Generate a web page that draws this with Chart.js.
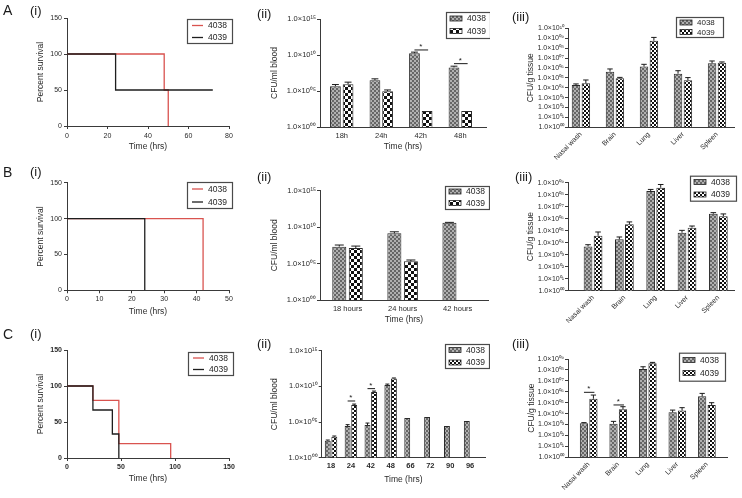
<!DOCTYPE html>
<html><head><meta charset="utf-8"><title>Survival and bacterial burden, strains 4038 / 4039</title>
<script src="https://cdn.jsdelivr.net/npm/chart.js@4.4.1/dist/chart.umd.min.js"></script>
<style>
html,body{margin:0;padding:0;background:#fff}
#wrap{position:relative;width:742px;height:498px;overflow:hidden;background:#fff;font-family:"Liberation Sans",Arial,Helvetica,sans-serif;color:#1a1a1a}
#wrap canvas{position:absolute}
.pl{position:absolute;line-height:1;white-space:nowrap}
.big{font-size:14px}
.sub{font-size:13px}
</style></head><body><div id="wrap">
<canvas id="a1"></canvas><canvas id="a2"></canvas><canvas id="a3"></canvas>
<canvas id="b1"></canvas><canvas id="b2"></canvas><canvas id="b3"></canvas>
<canvas id="c1"></canvas><canvas id="c2"></canvas><canvas id="c3"></canvas>
<span class="pl big" style="left:3px;top:3px">A</span>
<span class="pl sub" style="left:30px;top:4px">(i)</span>
<span class="pl sub" style="left:257px;top:7px">(ii)</span>
<span class="pl sub" style="left:512px;top:10px">(iii)</span>
<span class="pl big" style="left:3px;top:165px">B</span>
<span class="pl sub" style="left:30px;top:165px">(i)</span>
<span class="pl sub" style="left:257px;top:170px">(ii)</span>
<span class="pl sub" style="left:515px;top:170px">(iii)</span>
<span class="pl big" style="left:3px;top:327px">C</span>
<span class="pl sub" style="left:30px;top:327px">(i)</span>
<span class="pl sub" style="left:257px;top:337px">(ii)</span>
<span class="pl sub" style="left:512px;top:337px">(iii)</span>
</div>
<script>
// ================= DATA =================
const strainLabels = ['4038', '4039'];

// Kaplan-Meier survival (time in hrs, percent survival)
const survA_time4038 = [0, 48, 50];
const survA_pct4038  = [100, 50, 0];
const survA_time4039 = [0, 24, 72];
const survA_pct4039  = [100, 50, 50];
const survB_time4038 = [0, 42];
const survB_pct4038  = [100, 0];
const survB_time4039 = [0, 24];
const survB_pct4039  = [100, 0];
const survC_time4038 = [0, 24, 48, 96];
const survC_pct4038  = [100, 80, 20, 0];
const survC_time4039 = [0, 24, 42, 48];
const survC_pct4039  = [100, 66.7, 33.3, 0];
const survTicksA = [0, 20, 40, 60, 80];
const survTicksB = [0, 10, 20, 30, 40, 50];
const survTicksC = [0, 50, 100, 150];
const survTicksPct = [0, 50, 100, 150];

// CFU / ml blood
const bloodA_cats = ['18h', '24h', '42h', '48h'];
const bloodA_4038     = [4.7e5, 3.2e6, 1.8e10, 1.9e8];
const bloodA_4038_err = [7.9e5, 4.9e6, 2.5e10, 2.8e8];
const bloodA_4039     = [8.9e5, 9.3e4, 1.7e2, 1.7e2];
const bloodA_4039_err = [1.7e6, 1.4e5, null, null];
const bloodA_sigIndex = [2, 3];
const bloodA_sigLevel = [5.0e10, 6.3e8];

const bloodB_cats = ['18 hours', '24 hours', '42 hours'];
const bloodB_4038     = [2.1e7, 1.4e9, 4.0e10];
const bloodB_4038_err = [3.5e7, 2.3e9, 4.5e10];
const bloodB_4039     = [1.35e7, 2.0e5, null];
const bloodB_4039_err = [2.5e7, 3.1e5, null];

const bloodC_cats = ['18', '24', '42', '48', '66', '72', '90', '96'];
const bloodC_4038     = [2.4e2, 2.75e4, 3.8e4, 1.55e10, 3.6e5, 5.0e5, 2.75e4, 1.4e5];
const bloodC_4038_err = [3.0e2, 4.3e4, 7.2e4, 2.1e10, null, null, null, null];
const bloodC_4039     = [8.7e2, 2.4e7, 1.6e9, 1.3e11, null, null, null, null];
const bloodC_4039_err = [1.1e3, 3.3e7, 2.2e9, 1.5e11, null, null, null, null];
const bloodC_sigIndex = [1, 2];
const bloodC_sigLevel = [8.9e7, 4.8e9];

// CFU / g tissue
const tissueCats = ['Nasal wash', 'Brain', 'Lung', 'Liver', 'Spleen'];
const tissueA_4038     = [1.9e4, 4.2e5, 1.35e6, 2.6e5, 2.9e6];
const tissueA_4038_err = [2.4e4, 7.8e5, 2.3e6, 5.2e5, 5.0e6];
const tissueA_4039     = [2.75e4, 8.9e4, 5.6e8, 5.6e4, 3.4e6];
const tissueA_4039_err = [6.0e4, 1.1e5, 1.2e9, 1.05e5, 4.0e6];

const tissueB_4038     = [4.9e3, 1.9e4, 2.0e8, 6.8e4, 2.6e6];
const tissueB_4038_err = [6.8e3, 3.0e4, 2.75e8, 1.07e5, 3.2e6];
const tissueB_4039     = [3.8e4, 3.4e5, 3.8e8, 1.8e5, 1.6e6];
const tissueB_4039_err = [7.8e4, 5.4e5, 7.1e8, 2.45e5, 2.5e6];

const tissueC_4038     = [1.3e3, 1.2e3, 1.2e8, 1.3e4, 3.8e5];
const tissueC_4038_err = [1.5e3, 1.95e3, 1.95e8, 2.1e4, 7.1e5];
const tissueC_4039     = [2.3e5, 2.5e4, 4.0e8, 1.9e4, 6.2e4];
const tissueC_4039_err = [5.0e5, 4.3e4, 4.9e8, 3.5e4, 1.0e5];
const tissueC_sigIndex = [0, 1];
const tissueC_sigLevel = [8.9e5, 6.2e4];

// log axis ticks
const bloodTickValues = [1, 1e5, 1e10, 1e15];
const bloodTickLabels = ['1.0×10⁰⁰', '1.0×10⁰⁵', '1.0×10¹⁰', '1.0×10¹⁵'];
const tissueTickValues10 = [1, 1e1, 1e2, 1e3, 1e4, 1e5, 1e6, 1e7, 1e8, 1e9, 1e10];
const tissueTickLabels10 = ['1.0×10⁰⁰', '1.0×10⁰¹', '1.0×10⁰²', '1.0×10⁰³', '1.0×10⁰⁴', '1.0×10⁰⁵', '1.0×10⁰⁶', '1.0×10⁰⁷', '1.0×10⁰⁸', '1.0×10⁰⁹', '1.0×10¹⁰'];
const tissueTickValues9 = [1, 1e1, 1e2, 1e3, 1e4, 1e5, 1e6, 1e7, 1e8, 1e9];
const tissueTickLabels9 = ['1.0×10⁰⁰', '1.0×10⁰¹', '1.0×10⁰²', '1.0×10⁰³', '1.0×10⁰⁴', '1.0×10⁰⁵', '1.0×10⁰⁶', '1.0×10⁰⁷', '1.0×10⁰⁸', '1.0×10⁰⁹'];

// ================= STYLE / HELPERS =================
const FONT = '"Liberation Sans", Arial, Helvetica, sans-serif';
Chart.defaults.font.family = FONT;
Chart.defaults.color = '#2a2a2a';
Chart.defaults.animation = false;
Chart.defaults.plugins.legend.display = false;
Chart.defaults.plugins.tooltip.enabled = false;
const RED = '#d9534f', BLK = '#1e1e1e', AX = '#3a3a3a';
const TITLE_SIZE = 8.5, TITLE_LH = TITLE_SIZE * 1.2;

function makePattern(bg, fg, cell) {
  const c = document.createElement('canvas');
  c.width = c.height = cell * 2;
  const x = c.getContext('2d');
  x.fillStyle = bg; x.fillRect(0, 0, cell * 2, cell * 2);
  x.fillStyle = fg; x.fillRect(0, 0, cell, cell); x.fillRect(cell, cell, cell, cell);
  return x.createPattern(c, 'repeat');
}
const pat4038 = makePattern('#b0b0b0', '#666666', 2);
const pat4039big = makePattern('#ffffff', '#111111', 3);
const pat4039 = makePattern('#ffffff', '#111111', 2);

function place(id, box) {
  const cv = document.getElementById(id);
  cv.width = box.w; cv.height = box.h;
  cv.style.left = box.x + 'px'; cv.style.top = box.y + 'px';
  cv.style.width = box.w + 'px'; cv.style.height = box.h + 'px';
  return cv;
}

function extras(box, spec) {
  return {
    id: 'extras',
    afterDatasetsDraw(chart) {
      const ctx = chart.ctx, ys = chart.scales.y;
      chart.data.datasets.forEach((ds, di) => {
        if (!ds.errUpper) return;
        const meta = chart.getDatasetMeta(di);
        meta.data.forEach((el, i) => {
          const e = ds.errUpper[i];
          if (e == null || ds.data[i] == null) return;
          const top = ys.getPixelForValue(e);
          const hw = Math.max(2, el.width * 0.32);
          ctx.save();
          ctx.strokeStyle = '#1a1a1a'; ctx.lineWidth = 1;
          ctx.beginPath();
          ctx.moveTo(el.x, el.y); ctx.lineTo(el.x, top);
          ctx.moveTo(el.x - hw, top); ctx.lineTo(el.x + hw, top);
          ctx.stroke(); ctx.restore();
        });
      });
      if (spec.sigIndex) {
        const m0 = chart.getDatasetMeta(0), m1 = chart.getDatasetMeta(1);
        spec.sigIndex.forEach((idx, k) => {
          const yy = ys.getPixelForValue(spec.sigLevel[k]);
          const x0 = m0.data[idx].x, x1 = m1.data[idx].x;
          ctx.save();
          ctx.strokeStyle = '#1a1a1a'; ctx.lineWidth = 1;
          ctx.beginPath(); ctx.moveTo(x0, yy); ctx.lineTo(x1 + 1, yy); ctx.stroke();
          ctx.fillStyle = '#1a1a1a'; ctx.font = '8px ' + FONT;
          ctx.textAlign = 'center'; ctx.textBaseline = 'alphabetic';
          ctx.fillText('*', (x0 + x1) / 2, yy - 1);
          ctx.restore();
        });
      }
    },
    afterDraw(chart) {
      const L = spec.legend; if (!L) return;
      const ctx = chart.ctx;
      const lx = L.x - box.x, ly = L.y - box.y;
      ctx.save();
      ctx.strokeStyle = '#4a4a4a'; ctx.lineWidth = 1.2;
      ctx.strokeRect(lx + 0.5, ly + 0.5, L.w, L.h);
      ctx.font = L.size + 'px ' + FONT; ctx.fillStyle = '#1e1e1e';
      ctx.textAlign = 'left'; ctx.textBaseline = 'middle';
      chart.data.datasets.forEach((ds, i) => {
        const ry = L.rows[i] - box.y;
        if (spec.kind === 'line') {
          ctx.strokeStyle = ds.borderColor; ctx.lineWidth = 1.3;
          ctx.beginPath(); ctx.moveTo(lx + 5, ry); ctx.lineTo(lx + 16, ry); ctx.stroke();
        } else {
          ctx.fillStyle = ds.backgroundColor;
          ctx.fillRect(lx + 4, ry - 2.5, 12, 5);
          ctx.strokeStyle = '#222'; ctx.lineWidth = 0.8;
          ctx.strokeRect(lx + 4, ry - 2.5, 12, 5);
          ctx.fillStyle = '#1e1e1e';
        }
        ctx.fillText(ds.label, lx + 21, ry + 0.5);
      });
      ctx.restore();
    }
  };
}

function axisCommon(color) {
  return { border: { display: true, color: color, width: 1 } };
}

function survivalPanel(id, box, area, o) {
  const cv = place(id, box);
  const mk = (t, p) => t.map((tt, i) => ({ x: tt, y: p[i] }));
  const datasets = [
    { label: strainLabels[0], data: mk(o.t38, o.p38), borderColor: RED, order: 1 },
    { label: strainLabels[1], data: mk(o.t39, o.p39), borderColor: BLK, order: 0 }
  ];
  datasets.forEach(d => Object.assign(d, { stepped: 'before', borderWidth: 1.3, pointRadius: 0, fill: false, tension: 0 }));
  const yW = area.l - box.x, xH = box.y + box.h - area.b;
  return new Chart(cv, {
    type: 'line',
    data: { datasets },
    options: {
      responsive: false, maintainAspectRatio: false,
      layout: { padding: { left: 0, top: area.t - box.y, right: box.x + box.w - area.r, bottom: 0 } },
      scales: {
        x: {
          type: 'linear', min: o.xTicks[0], max: o.xTicks[o.xTicks.length - 1],
          afterBuildTicks: s => { s.ticks = o.xTicks.map(v => ({ value: v })); },
          afterFit: s => { s.height = xH; },
          ticks: { font: { size: 7, weight: o.bold ? 'bold' : 'normal' }, padding: o.xPad, maxRotation: 0, color: '#2a2a2a' },
          grid: { drawOnChartArea: false, drawTicks: true, tickLength: 3, color: AX },
          ...axisCommon(AX),
          title: { display: true, text: 'Time (hrs)', font: { size: TITLE_SIZE }, color: '#2a2a2a',
                   padding: { top: 0, bottom: (box.y + box.h) - o.xTitleY - TITLE_LH / 2 } }
        },
        y: {
          type: 'linear', min: 0, max: 150,
          afterBuildTicks: s => { s.ticks = survTicksPct.map(v => ({ value: v })); },
          afterFit: s => { s.width = yW; },
          ticks: { font: { size: 7, weight: o.bold ? 'bold' : 'normal' }, padding: 2, color: '#2a2a2a' },
          grid: { drawOnChartArea: false, drawTicks: true, tickLength: 3, color: AX },
          ...axisCommon(AX),
          title: { display: true, text: 'Percent survival', font: { size: TITLE_SIZE }, color: '#2a2a2a',
                   padding: { top: o.yTitleX - box.x - TITLE_LH / 2, bottom: 0 } }
        }
      }
    },
    plugins: [extras(box, { kind: 'line', legend: o.legend })]
  });
}

function barPanel(id, box, area, o) {
  const cv = place(id, box);
  const datasets = [
    { label: strainLabels[0], data: o.v38, errUpper: o.e38, backgroundColor: pat4038 },
    { label: strainLabels[1], data: o.v39, errUpper: o.e39, backgroundColor: o.pat39 }
  ];
  datasets.forEach(d => Object.assign(d, { borderColor: '#2a2a2a', borderWidth: 1,
    categoryPercentage: o.cp, barPercentage: o.bp }));
  const yW = area.l - box.x, xH = box.y + box.h - area.b;
  const n = o.cats.length;
  const xScale = {
    type: 'category', offset: true,
    afterBuildTicks: s => { s._startValue = -o.padStart; s._valueRange = n - 1 + o.padStart + o.padEnd; },
    afterFit: s => { s.height = xH; },
    ticks: { font: { size: o.xFont, weight: o.bold ? 'bold' : 'normal' }, padding: o.xPad, autoSkip: false,
             minRotation: o.rot, maxRotation: o.rot, color: '#2a2a2a' },
    grid: { display: false, drawTicks: false, tickLength: 0 },
    ...axisCommon(AX)
  };
  if (o.xTitleY) {
    xScale.title = { display: true, text: 'Time (hrs)', font: { size: TITLE_SIZE }, color: '#2a2a2a',
                     padding: { top: 0, bottom: (box.y + box.h) - o.xTitleY - TITLE_LH / 2 } };
  }
  return new Chart(cv, {
    type: 'bar',
    data: { labels: o.cats, datasets },
    options: {
      responsive: false, maintainAspectRatio: false,
      layout: { padding: { left: 0, top: area.t - box.y, right: box.x + box.w - area.r, bottom: 0 } },
      scales: {
        x: xScale,
        y: {
          type: 'logarithmic', min: o.tickValues[0], max: o.tickValues[o.tickValues.length - 1],
          afterBuildTicks: s => { s.ticks = o.tickValues.map(v => ({ value: v })); },
          afterFit: s => { s.width = yW; },
          ticks: { font: { size: o.yFont }, padding: 1, autoSkip: false, color: '#2a2a2a',
                   callback: (v, i) => o.tickLabels[i] },
          grid: { drawOnChartArea: false, drawTicks: true, tickLength: 3, color: AX },
          ...axisCommon(AX),
          title: { display: true, text: o.yTitle, font: { size: TITLE_SIZE }, color: '#2a2a2a',
                   padding: { top: o.yTitleX - box.x - TITLE_LH / 2, bottom: 0 } }
        }
      }
    },
    plugins: [extras(box, { kind: 'bar', legend: o.legend, sigIndex: o.sigIndex, sigLevel: o.sigLevel })]
  });
}

// ================= PANELS =================
// Column (i): survival
survivalPanel('a1', { x: 0, y: 0, w: 240, h: 160 }, { l: 67, t: 18, r: 229, b: 126 }, {
  t38: survA_time4038, p38: survA_pct4038, t39: survA_time4039, p39: survA_pct4039,
  xTicks: survTicksA, xPad: 2.5, xTitleY: 147, yTitleX: 41,
  legend: { x: 187, y: 19, w: 45, h: 24, rows: [25.5, 37.5], size: 8.5 }
});
survivalPanel('b1', { x: 0, y: 160, w: 240, h: 160 }, { l: 67, t: 182.7, r: 229, b: 290.3 }, {
  t38: survB_time4038, p38: survB_pct4038, t39: survB_time4039, p39: survB_pct4039,
  xTicks: survTicksB, xPad: 2, xTitleY: 311.5, yTitleX: 41,
  legend: { x: 187, y: 182, w: 45, h: 26, rows: [189, 202], size: 8.5 }
});
survivalPanel('c1', { x: 0, y: 320, w: 240, h: 178 }, { l: 67, t: 350, r: 229, b: 458 }, {
  t38: survC_time4038, p38: survC_pct4038, t39: survC_time4039, p39: survC_pct4039,
  xTicks: survTicksC, xPad: 1.5, xTitleY: 479, yTitleX: 41, bold: true,
  legend: { x: 188, y: 352, w: 45, h: 23, rows: [358, 369.5], size: 8.5 }
});

// Column (ii): blood
barPanel('a2', { x: 240, y: 0, w: 250, h: 160 }, { l: 320, t: 19, r: 486, b: 127 }, {
  cats: bloodA_cats, v38: bloodA_4038, e38: bloodA_4038_err, v39: bloodA_4039, e39: bloodA_4039_err,
  pat39: pat4039big, cp: 0.64, bp: 0.85, padStart: 0.55, padEnd: 0.65,
  tickValues: bloodTickValues, tickLabels: bloodTickLabels, yFont: 7.5, xFont: 7.5, xPad: 4.5, rot: 0,
  yTitle: 'CFU/ml blood', yTitleX: 275, xTitleY: 146.5,
  sigIndex: bloodA_sigIndex, sigLevel: bloodA_sigLevel,
  legend: { x: 446, y: 12, w: 44, h: 26, rows: [18.5, 31], size: 8.5 }
});
barPanel('b2', { x: 240, y: 160, w: 250, h: 170 }, { l: 320, t: 190.7, r: 488, b: 300 }, {
  cats: bloodB_cats, v38: bloodB_4038, e38: bloodB_4038_err, v39: bloodB_4039, e39: bloodB_4039_err,
  pat39: pat4039big, cp: 0.6, bp: 0.85, padStart: 0.5, padEnd: 0.55,
  tickValues: bloodTickValues, tickLabels: bloodTickLabels, yFont: 7.5, xFont: 7.5, xPad: 4, rot: 0,
  yTitle: 'CFU/ml blood', yTitleX: 275, xTitleY: 320,
  legend: { x: 445, y: 186, w: 44, h: 23, rows: [191.5, 203], size: 8.5 }
});
barPanel('c2', { x: 240, y: 320, w: 250, h: 178 }, { l: 321.7, t: 350.7, r: 485, b: 457.7 }, {
  cats: bloodC_cats, v38: bloodC_4038, e38: bloodC_4038_err, v39: bloodC_4039, e39: bloodC_4039_err,
  pat39: pat4039, cp: 0.66, bp: 0.9, padStart: 0.47, padEnd: 0.75,
  tickValues: bloodTickValues, tickLabels: bloodTickLabels, yFont: 7.5, xFont: 7.5, xPad: 4, rot: 0, bold: true,
  yTitle: 'CFU/ml blood', yTitleX: 275, xTitleY: 480,
  sigIndex: bloodC_sigIndex, sigLevel: bloodC_sigLevel,
  legend: { x: 445, y: 344, w: 44, h: 24, rows: [350, 362.5], size: 8.5 }
});

// Column (iii): tissue
barPanel('a3', { x: 490, y: 0, w: 252, h: 180 }, { l: 568, t: 28.3, r: 734, b: 127.3 }, {
  cats: tissueCats, v38: tissueA_4038, e38: tissueA_4038_err, v39: tissueA_4039, e39: tissueA_4039_err,
  pat39: pat4039, cp: 0.58, bp: 0.86, padStart: 0.38, padEnd: 0.5,
  tickValues: tissueTickValues10, tickLabels: tissueTickLabels10, yFont: 7, xFont: 7, xPad: 3, rot: 45,
  yTitle: 'CFU/g tissue', yTitleX: 531,
  legend: { x: 676, y: 17, w: 47, h: 20, rows: [22.5, 32], size: 8 }
});
barPanel('b3', { x: 490, y: 160, w: 252, h: 180 }, { l: 568, t: 182.7, r: 734, b: 290.7 }, {
  cats: tissueCats, v38: tissueB_4038, e38: tissueB_4038_err, v39: tissueB_4039, e39: tissueB_4039_err,
  pat39: pat4039, cp: 0.64, bp: 0.87, padStart: 0.8, padEnd: 0.5,
  tickValues: tissueTickValues9, tickLabels: tissueTickLabels9, yFont: 7, xFont: 7, xPad: 3, rot: 45,
  yTitle: 'CFU/g tissue', yTitleX: 530.7,
  legend: { x: 690, y: 175.7, w: 46, h: 25, rows: [182, 194.5], size: 8.5 }
});
barPanel('c3', { x: 490, y: 320, w: 252, h: 178 }, { l: 568, t: 359, r: 727, b: 457.3 }, {
  cats: tissueCats, v38: tissueC_4038, e38: tissueC_4038_err, v39: tissueC_4039, e39: tissueC_4039_err,
  pat39: pat4039, cp: 0.64, bp: 0.87, padStart: 0.7, padEnd: 0.68,
  tickValues: tissueTickValues9, tickLabels: tissueTickLabels9, yFont: 7, xFont: 7, xPad: 3, rot: 45,
  yTitle: 'CFU/g tissue', yTitleX: 531.7,
  sigIndex: tissueC_sigIndex, sigLevel: tissueC_sigLevel,
  legend: { x: 679, y: 352.7, w: 46, h: 28, rows: [360, 373], size: 8.5 }
});
</script></body></html>
